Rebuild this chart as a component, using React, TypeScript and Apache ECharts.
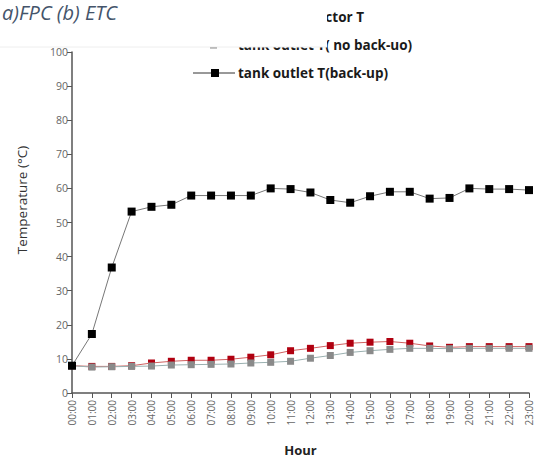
import React, { useEffect, useRef } from "react";
import * as echarts from "echarts";

const hours = ["00:00","01:00","02:00","03:00","04:00","05:00","06:00","07:00","08:00","09:00","10:00","11:00","12:00","13:00","14:00","15:00","16:00","17:00","18:00","19:00","20:00","21:00","22:00","23:00"];
const backUp = [8, 17.3, 36.8, 53.2, 54.6, 55.2, 57.9, 57.9, 57.9, 57.9, 60, 59.8, 58.8, 56.6, 55.8, 57.7, 59, 59, 57, 57.2, 60, 59.8, 59.8, 59.5];
const collector = [8, 7.8, 7.8, 8, 8.8, 9.3, 9.6, 9.6, 9.9, 10.5, 11.2, 12.4, 13.1, 13.9, 14.6, 14.9, 15.1, 14.6, 13.8, 13.4, 13.6, 13.6, 13.6, 13.6];
const noBackUp = [8, 7.6, 7.7, 7.8, 7.9, 8.2, 8.3, 8.4, 8.5, 8.8, 9.0, 9.3, 10.2, 11, 11.9, 12.4, 12.8, 13.1, 13.1, 13, 13.1, 13.1, 13.1, 13.1];
const legendNames = ["collector T", "tank outlet T( no back-uo)", "tank outlet T(back-up)"];

export default function App() {
  const ref = useRef<HTMLDivElement>(null);
  useEffect(() => {
    if (!ref.current) return;
    const chart = echarts.init(ref.current, null, { renderer: "svg" });
    const font = "'Open Sans', 'Liberation Sans', sans-serif";
    chart.setOption({
      animation: false,
      backgroundColor: "#fff",
      textStyle: { fontFamily: font },
      grid: { left: 72, right: 14, top: 52, bottom: 64 },
      xAxis: {
        type: "category",
        data: hours,
        boundaryGap: false,
        name: "Hour",
        nameLocation: "middle",
        nameGap: 50,
        nameTextStyle: { fontSize: 13, fontWeight: "bold", color: "#222", fontFamily: font },
        axisLine: { lineStyle: { color: "#555", width: 1.5 } },
        axisTick: { alignWithLabel: true, length: 5, lineStyle: { color: "#555" } },
        axisLabel: { rotate: 90, fontSize: 10, color: "#666", margin: 7, interval: 0, fontFamily: font },
      },
      yAxis: {
        type: "value",
        min: 0,
        max: 100,
        interval: 10,
        splitLine: { show: false },
        axisLine: { show: true, lineStyle: { color: "#555", width: 1.5 } },
        axisTick: { show: true, length: 5, lineStyle: { color: "#555" } },
        axisLabel: { fontSize: 10.5, color: "#666", margin: 4, fontFamily: font },
      },
      series: [
        {
          name: legendNames[0],
          type: "line",
          data: collector,
          symbol: "rect",
          symbolSize: 7,
          itemStyle: { color: "#b00010" },
          lineStyle: { color: "#d06060", width: 1 },
          z: 2,
        },
        {
          name: legendNames[1],
          type: "line",
          data: noBackUp,
          symbol: "rect",
          symbolSize: 7,
          itemStyle: { color: "#8a8a8a" },
          lineStyle: { color: "#9ab0b0", width: 1 },
          z: 3,
        },
        {
          name: legendNames[2],
          type: "line",
          data: backUp,
          symbol: "rect",
          symbolSize: 8,
          itemStyle: { color: "#000" },
          lineStyle: { color: "#777", width: 1 },
          z: 4,
        },
      ],
      graphic: [
        { type: "line", shape: { x1: 193, y1: 17, x2: 235, y2: 17 }, style: { stroke: "#c06060", lineWidth: 1 }, z: 10 },
        { type: "rect", shape: { x: 211.5, y: 13.5, width: 7, height: 7 }, style: { fill: "#b00010" }, z: 10 },
        { type: "text", x: 364, y: 17, style: { text: legendNames[0], fontSize: 13.5, fontWeight: "bold", fill: "#1a1a1a", align: "right", verticalAlign: "middle", fontFamily: font }, z: 10 },
        { type: "line", shape: { x1: 193, y1: 45, x2: 235, y2: 45 }, style: { stroke: "#999", lineWidth: 1 }, z: 10 },
        { type: "rect", shape: { x: 210, y: 41.5, width: 7, height: 7 }, style: { fill: "#8a8a8a" }, z: 10 },
        { type: "text", x: 238, y: 45, style: { text: legendNames[1], fontSize: 13.5, fontWeight: "bold", fill: "#1a1a1a", align: "left", verticalAlign: "middle", fontFamily: font }, z: 10 },
        { type: "line", shape: { x1: 193, y1: 73, x2: 235, y2: 73 }, style: { stroke: "#333", lineWidth: 1 }, z: 10 },
        { type: "rect", shape: { x: 211, y: 69, width: 8, height: 8 }, style: { fill: "#000" }, z: 10 },
        { type: "text", x: 238, y: 73, style: { text: legendNames[2], fontSize: 13.5, fontWeight: "bold", fill: "#1a1a1a", align: "left", verticalAlign: "middle", fontFamily: font }, z: 10 },
        { type: "rect", shape: { x: 0, y: 0, width: 327, height: 47 }, style: { fill: "#fff" }, z: 20 },
        { type: "line", shape: { x1: 0, y1: 47, x2: 327, y2: 47 }, style: { stroke: "#eee", lineWidth: 1 }, z: 21 },
        { type: "text", x: 2, y: 12, style: { text: "a)FPC (b) ETC", fontSize: 20, fontStyle: "italic", fill: "#44546a", align: "left", verticalAlign: "middle", fontFamily: font }, z: 30 },
        { type: "text", x: 22, y: 200, rotation: Math.PI / 2, style: { text: "Temperature (°C)", fontSize: 13.5, fill: "#333", align: "center", verticalAlign: "middle", fontFamily: font }, z: 10 },
      ],
    });
    return () => chart.dispose();
  }, []);
  return <div ref={ref} style={{ position: "absolute", left: 0, top: 0, width: 543, height: 461 }} />;
}
